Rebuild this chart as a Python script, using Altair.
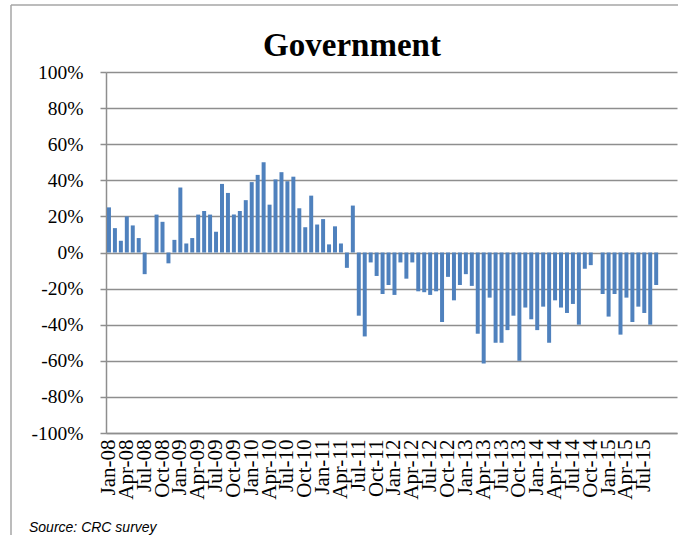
import altair as alt
import pandas as pd

# ---- data ----
month_names = ["Jan", "Feb", "Mar", "Apr", "May", "Jun", "Jul", "Aug", "Sep", "Oct", "Nov", "Dec"]
years = ["08", "09", "10", "11", "12", "13", "14", "15"]
categories = [f"{m}-{y}" for y in years for m in month_names]  # axis runs Jan-08 .. Dec-15

values = [
    25, 13.5, 6.5, 20, 15, 8, -12, 0, 21, 17, -6, 7,                       # 2008
    36, 5, 8, 21, 23, 21, 11.5, 38, 33, 21, 23, 29,                        # 2009
    39, 43, 50, 26.5, 40.5, 44.5, 39.5, 42, 24.5, 14, 31.5, 15.5,          # 2010
    18.5, 4.5, 14.5, 5, -8.5, 26, -35, -46.5, -5.5, -13, -23, -18,         # 2011
    -23.5, -5.5, -14.5, -5.5, -21.5, -22, -23.5, -21.5, -38.5, -13.5, -26.5, -18,  # 2012
    -12, -18.5, -45, -61.5, -25, -50, -50, -43, -35, -60, -30.5, -37,      # 2013
    -43, -30, -50, -26.5, -30.5, -33.5, -28.5, -40, -9, -7, 0, -23,        # 2014
    -35.5, -23, -45.5, -25, -38.5, -30, -33.5, -40, -18,                   # 2015
]

tick_labels = [f"{m}-{y}" for y in years for m in ["Jan", "Apr", "Jul", "Oct"]][:-1]  # Jan-08 .. Jul-15
y_ticks = [-100, -80, -60, -40, -20, 0, 20, 40, 60, 80, 100]

title_text = ["Government"]
source_text = ["Source: CRC survey"]

df = pd.DataFrame({"month": categories[:len(values)], "value": values})

# ---- layout ----
W, H = 571, 361
PAD_L, PAD_T = 106, 72
GRID = "#8e8e8e"
SERIF = "'Liberation Serif', 'Times New Roman', 'DejaVu Serif', serif"

x_enc = alt.X(
    "month:N",
    sort=categories,
    scale=alt.Scale(domain=categories, paddingInner=0.33, paddingOuter=0.165),
    axis=alt.Axis(
        values=tick_labels, labelAngle=-90, ticks=False, title=None, grid=False,
        labelFont=SERIF, labelFontSize=21, labelColor="black",
        labelPadding=6, labelOverlap=False, labelBound=False,
        domainColor=GRID, domainWidth=1.5,
    ),
)
y_enc = alt.Y(
    "value:Q",
    scale=alt.Scale(domain=[-100, 100], nice=False, zero=True),
    axis=alt.Axis(
        values=y_ticks, labelExpr="datum.value + '%'", title=None,
        grid=True, gridColor=GRID, gridWidth=1.5,
        tickSize=6, tickColor=GRID, tickWidth=1.5,
        domainColor=GRID, domainWidth=1.5,
        labelFont=SERIF, labelFontSize=19.5, labelColor="black",
        labelPadding=17,
    ),
)

bars = alt.Chart(df).mark_bar(color="#4F81BD").encode(x=x_enc, y=y_enc)

title = alt.Chart(pd.DataFrame({"t": title_text})).mark_text(
    font=SERIF, fontSize=33, fontWeight="bold", color="black",
    align="center", baseline="alphabetic",
).encode(x=alt.value(352 - PAD_L), y=alt.value(56 - PAD_T), text="t:N")

source = alt.Chart(pd.DataFrame({"t": source_text})).mark_text(
    font="Liberation Sans", fontSize=14, fontStyle="italic", color="black",
    align="left", baseline="alphabetic",
).encode(x=alt.value(29 - PAD_L), y=alt.value(532 - PAD_T), text="t:N")

one = pd.DataFrame({"k": [0]})
border_v = alt.Chart(one).mark_rule(color="#a6a6a6", strokeWidth=1.5).encode(
    x=alt.value(11 - PAD_L), y=alt.value(5 - PAD_T), y2=alt.value(540 - PAD_T)
)
border_h = alt.Chart(one).mark_rule(color="#a6a6a6", strokeWidth=1.5).encode(
    x=alt.value(11 - PAD_L), x2=alt.value(690 - PAD_L), y=alt.value(5 - PAD_T)
)

chart = alt.layer(border_v, border_h, bars, title, source).properties(
    width=W, height=H,
    padding={"left": PAD_L, "top": PAD_T, "right": 1, "bottom": 102},
    autosize=alt.AutoSizeParams(type="none"),
    background="white",
).configure_view(stroke=None).configure_axis(labelFont=SERIF)

chart.save("out.html", embed_options={"renderer": "svg", "actions": False})
